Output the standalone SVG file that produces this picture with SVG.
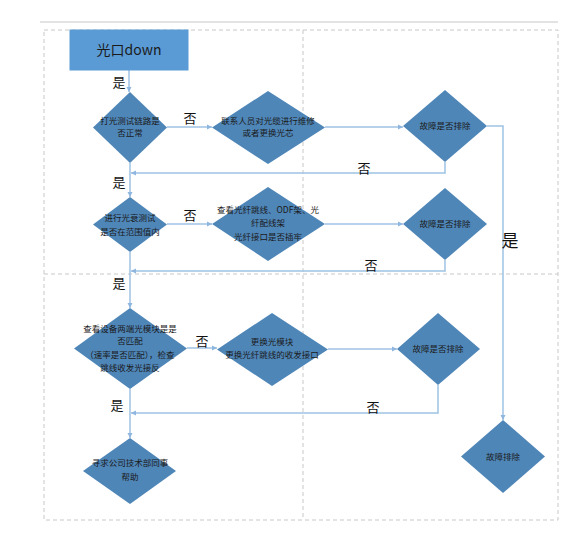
<svg xmlns="http://www.w3.org/2000/svg" width="576" height="560" viewBox="0 0 576 560">
<style>
.frame{fill:none;stroke:#c8c8c8;stroke-width:1;stroke-dasharray:4,3}
.dia{fill:#4f86b8}
.box{fill:#5b9bd5;stroke:#5b9bd5}
.c{fill:none;stroke:#9fc2e4;stroke-width:1.5}
.t{font-family:"Noto Sans CJK SC","Liberation Sans",sans-serif;font-size:8.5px;fill:#1a1a1a;text-anchor:middle}
.lbl{font-family:"Noto Sans CJK SC","Liberation Sans",sans-serif;font-size:13px;fill:#111;text-anchor:middle}
</style>
<defs>
<marker id="a" viewBox="0 0 6 6" refX="6" refY="3" markerWidth="3.5" markerHeight="3.5" orient="auto"><path d="M0,0L6,3L0,6z" fill="#8fb6de"/></marker>
</defs>
<rect width="576" height="560" fill="#fff"/>
<line x1="40" y1="22" x2="558" y2="22" stroke="#c8c8c8" stroke-width="1.2"/>
<rect class="frame" x="44" y="30" width="514" height="490"/>
<line class="frame" x1="303" y1="30" x2="303" y2="520"/>
<line class="frame" x1="44" y1="274" x2="558" y2="274"/>
<g id="connectors">
<path class="c" d="M129,70V92" marker-end="url(#a)"/>
<path class="c" d="M167,127H212" marker-end="url(#a)"/>
<path class="c" d="M325,127H403" marker-end="url(#a)"/>
<path class="c" d="M487,126H503V420" marker-end="url(#a)"/>
<path class="c" d="M445,162V173H131" marker-end="url(#a)"/>
<path class="c" d="M130,163V197" marker-end="url(#a)"/>
<path class="c" d="M167,224H212" marker-end="url(#a)"/>
<path class="c" d="M325,224H403" marker-end="url(#a)"/>
<path class="c" d="M445,260V271H131" marker-end="url(#a)"/>
<path class="c" d="M130,252V308" marker-end="url(#a)"/>
<path class="c" d="M187,348H217" marker-end="url(#a)"/>
<path class="c" d="M328,349H397" marker-end="url(#a)"/>
<path class="c" d="M438,385V413H131" marker-end="url(#a)"/>
<path class="c" d="M130,389V438" marker-end="url(#a)"/>
<text class="lbl" x="119" y="87">是</text>
<text class="lbl" x="190" y="123">否</text>
<text class="lbl" x="364" y="173">否</text>
<text class="lbl" x="119" y="187">是</text>
<text class="lbl" x="190" y="220">否</text>
<text class="lbl" x="371" y="270">否</text>
<text class="lbl" x="119" y="288">是</text>
<text class="lbl" x="202" y="346">否</text>
<text class="lbl" x="373" y="412">否</text>
<text class="lbl" x="117" y="410">是</text>
<text class="lbl" x="510" y="247" style="font-size:17px">是</text>
</g>
<g id="start"><rect class="box" x="70" y="30" width="118" height="40"/><text class="t" x="129" y="55" style="font-size:14px">光口down</text></g>
<g id="d1"><path class="dia" d="M130,92L167,127.5L130,163L93,127.5z"/><text class="t" x="130" y="124">打光测试链路是</text><text class="t" x="130" y="136">否正常</text></g>
<g id="d2"><path class="dia" d="M268,91L325,127.5L268,164L212,127.5z"/><text class="t" x="268" y="124">联系人员对光缆进行维修</text><text class="t" x="268" y="136">或者更换光芯</text></g>
<g id="d3"><path class="dia" d="M445,90L487,126L445,162L403,126z"/><text class="t" x="445" y="129">故障是否排除</text></g>
<g id="d4"><path class="dia" d="M130,197L167,224.5L130,252L93,224.5z"/><text class="t" x="130" y="221">进行光衰测试</text><text class="t" x="130" y="235">是否在范围值内</text></g>
<g id="d5"><path class="dia" d="M268,187L325,224L268,261L212,224z"/><text class="t" x="268" y="213">查看光纤跳线、ODF架、光</text><text class="t" x="268" y="226">纤配线架</text><text class="t" x="268" y="240">光纤接口是否插牢</text></g>
<g id="d6"><path class="dia" d="M445,188L487,224L445,260L403,224z"/><text class="t" x="445" y="227">故障是否排除</text></g>
<g id="d7"><path class="dia" d="M130,308L187,348.5L130,389L74,348.5z"/><text class="t" x="130" y="332">查看设备两端光模块是是</text><text class="t" x="130" y="344">否匹配</text><text class="t" x="130" y="358">（速率是否匹配），检查</text><text class="t" x="130" y="371">跳线收发光接反</text></g>
<g id="d8"><path class="dia" d="M272,313L328,349.5L272,386L217,349.5z"/><text class="t" x="272" y="345">更换光模块</text><text class="t" x="272" y="358">更换光纤跳线的收发接口</text></g>
<g id="d9"><path class="dia" d="M438,313L480,349L438,385L397,349z"/><text class="t" x="438" y="352">故障是否排除</text></g>
<g id="d10"><path class="dia" d="M130,438L176,471L130,504L83,471z"/><text class="t" x="130" y="466">寻求公司技术部同事</text><text class="t" x="130" y="480">帮助</text></g>
<g id="d11"><path class="dia" d="M503,420L545,456.5L503,493L461,456.5z"/><text class="t" x="503" y="460">故障排除</text></g>
</svg>
